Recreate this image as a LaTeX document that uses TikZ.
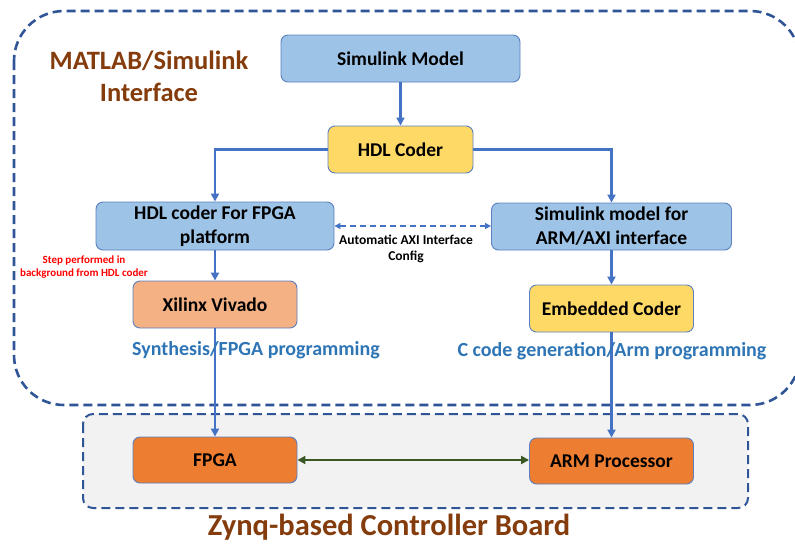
\documentclass[tikz,border=0pt]{standalone}
\usepackage{fontspec}
\setmainfont{Carlito}
\usetikzlibrary{arrows.meta}
\definecolor{frameblue}{HTML}{2F5597}
\definecolor{arrowblue}{HTML}{4472C4}
\definecolor{boxline}{HTML}{5B7FBF}
\definecolor{lightblue}{HTML}{9DC3E6}
\definecolor{yellowbox}{HTML}{FFD966}
\definecolor{peach}{HTML}{F4B183}
\definecolor{orangebox}{HTML}{ED7D31}
\definecolor{brownlabel}{HTML}{843C0C}
\definecolor{bluelabel}{HTML}{2E75B6}
\definecolor{darkgreen}{HTML}{385723}
\definecolor{boardgrey}{HTML}{F2F2F2}
\begin{document}
\begin{tikzpicture}[x=1pt,y=-1pt,
  box/.style={draw=boxline, line width=0.9pt, rounded corners=7pt, align=center,
    font=\bfseries\fontsize{19.5}{24}\selectfont, inner sep=1pt},
  arr/.style={draw=arrowblue, line width=2.6pt, -{Triangle[length=8pt,width=8pt]}},
  dasharr/.style={draw=arrowblue, line width=1.6pt, dash pattern=on 6pt off 4pt,
    {Triangle[length=6pt,width=6pt]}-{Triangle[length=6pt,width=6pt]}},
  greenarr/.style={draw=darkgreen, line width=2pt,
    {Triangle[length=8pt,width=8pt]}-{Triangle[length=8pt,width=8pt]}},
  frame/.style={draw=frameblue, line width=2.6pt, dash pattern=on 9pt off 5pt}
]
\useasboundingbox (0,0) rectangle (795,544);
% outer MATLAB frame
\draw[frame, rounded corners=50pt] (14,11) rectangle (800,405);
% board
\draw[frame, fill=boardgrey, line width=2pt, rounded corners=10pt] (83,414) rectangle (748,508);

\node[brownlabel, font=\bfseries\fontsize{26.5}{32}\selectfont, align=center] (mlab) at (149,76) {MATLAB/Simulink\\Interface};
\node[brownlabel, font=\bfseries\fontsize{30.5}{34}\selectfont] (zynq) at (389,527) {Zynq-based Controller Board};

\node[box, fill=lightblue, minimum width=239pt, minimum height=47pt] (sm) at (400.5,58.5) {Simulink Model};
\node[box, fill=yellowbox, minimum width=145pt, minimum height=47pt] (hdl) at (400.5,149.5) {HDL Coder};
\node[box, fill=lightblue, minimum width=238pt, minimum height=48pt] (fpgap) at (215,226) {HDL coder For FPGA\\platform};
\node[box, fill=lightblue, minimum width=240pt, minimum height=47pt] (armp) at (611.5,226.5) {Simulink model for\\ARM/AXI interface};
\node[box, fill=peach, minimum width=164pt, minimum height=47pt] (viv) at (215,304.5) {Xilinx Vivado};
\node[box, fill=yellowbox, minimum width=164pt, minimum height=47pt] (emb) at (611.5,308.5) {Embedded Coder};
\node[box, fill=orangebox, minimum width=164pt, minimum height=46pt] (fpga) at (215,460) {FPGA};
\node[box, fill=orangebox, minimum width=164pt, minimum height=46pt] (arm) at (611.5,461) {ARM Processor};

\draw[arr] (sm) -- (hdl);
\draw[arr] (hdl.west) -| (fpgap.north);
\draw[arr] (hdl.east) -| (armp.north);
\draw[dasharr] (fpgap.east) -- (fpgap.east -| armp.west);
\draw[arr] (fpgap) -- (viv);
\draw[arr] (viv) -- (fpga);
\draw[arr] (armp) -- (emb);
\draw[arr] (emb) -- (arm);
\draw[greenarr] (fpga.east) -- (fpga.east -| arm.west);

\node[font=\bfseries\fontsize{13.5}{16}\selectfont, align=center] (axi) at (406,249) {Automatic AXI Interface\\Config};
\node[red, font=\bfseries\fontsize{11}{13}\selectfont, align=center] (step) at (84,267.5) {Step performed in\\background from HDL coder};
\node[bluelabel, font=\bfseries\fontsize{20}{22}\selectfont] (syn) at (256,350) {Synthesis/FPGA programming};
\node[bluelabel, font=\bfseries\fontsize{20}{22}\selectfont] (cgen) at (612,351) {C code generation/Arm programming};
\end{tikzpicture}
\end{document}
